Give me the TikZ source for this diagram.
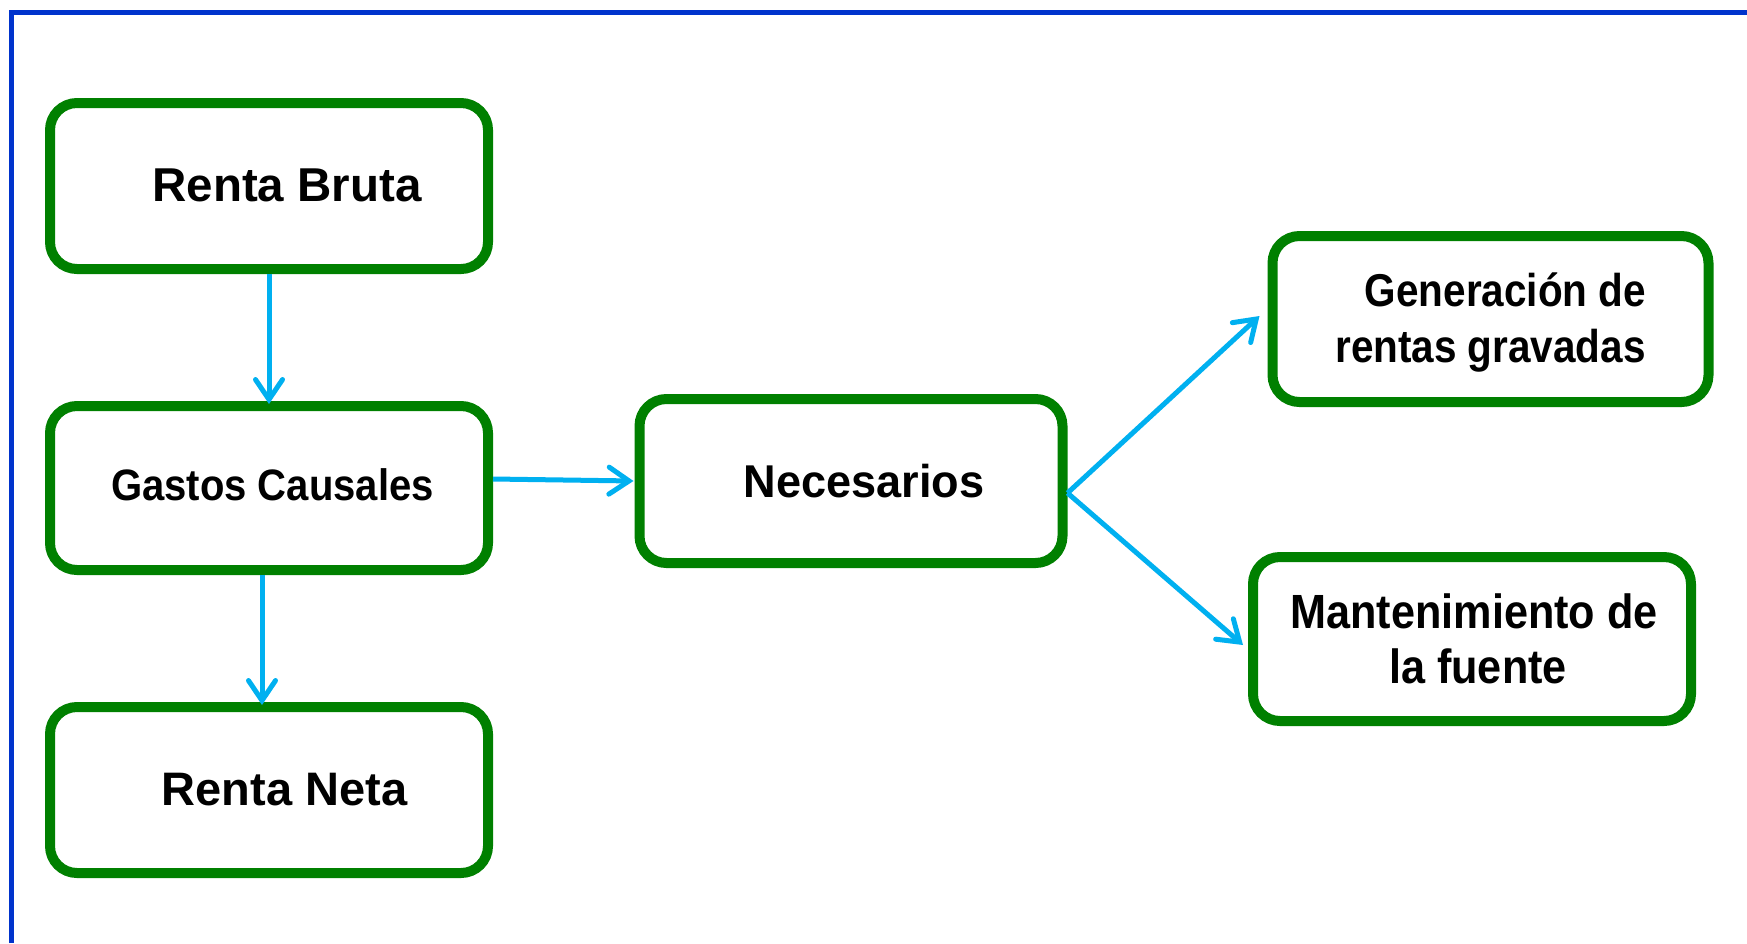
\documentclass[tikz,border=0pt]{standalone}
\usepackage{fontspec}
\setmainfont{Liberation Sans}
\usetikzlibrary{arrows.meta,calc}
\definecolor{boxgreen}{RGB}{0,128,0}
\definecolor{framblue}{RGB}{0,51,204}
\definecolor{arrowcyan}{RGB}{0,176,240}
\tikzset{
  box/.style={draw=boxgreen, line width=10pt, rounded corners=27pt, fill=white, inner sep=0pt},
  txt/.style={inner sep=0pt, anchor=base, font=\bfseries},
  conn/.style={draw=arrowcyan, line width=5pt, -{Straight Barb[length=20pt,width=27pt,line width=5pt,line cap=round]}},
}
\newcommand{\fs}[1]{\fontsize{#1}{#1}\selectfont}
\begin{document}
\begin{tikzpicture}[x=1pt,y=-1pt]
\useasboundingbox (0,0) rectangle (1747,943);
\fill[white] (0,0) rectangle (1747,943);
% frame
\draw[framblue, line width=5pt] (11.5,943) -- (11.5,12.5) -- (1747,12.5);
% boxes
\node[box, minimum width=438pt, minimum height=166pt] (rb) at (269,186) {};
\node[box, minimum width=438pt, minimum height=164pt] (gc) at (269,488) {};
\node[box, minimum width=438pt, minimum height=166pt] (rn) at (269,790) {};
\node[box, minimum width=423pt, minimum height=164pt] (nec) at (851,481) {};
\node[box, minimum width=436pt, minimum height=166pt] (gen) at (1490.5,319) {};
\node[box, minimum width=438pt, minimum height=164pt] (man) at (1472,639) {};
% texts
\node[txt] (rbt) at (287,201) {\fs{47.5}Renta Bruta};
\node[txt] (gct) at (272.5,500) {\fs{44}\scalebox{0.91}[1]{Gastos Causales}};
\node[txt] (rnt) at (284.5,805) {\fs{47}Renta Neta};
\node[txt] (nect) at (864,497) {\fs{46}\scalebox{0.98}[1]{Necesarios}};
\node[txt] (gent1) at (1505.5,306) {\fs{46}\scalebox{0.88}[1]{Generación de}};
\node[txt] (gent2) at (1490.5,362) {\fs{46}\scalebox{0.88}[1]{rentas gravadas}};
\node[txt] (mant1) at (1474,628) {\fs{48}\scalebox{0.9}[1]{Mantenimiento de}};
\node[txt] (mant2) at (1478,683) {\fs{48}\scalebox{0.9}[1]{la fuente}};
% connectors
\draw[conn, shorten >=-3pt] (rb.south) -- (gc.north);
\draw[conn, shorten >=-3pt] ($(gc.south)+(-7,0)$) -- ($(rn.north)+(-7,0)$);
\draw[conn, shorten >=1pt] ($(gc.east)+(0,-9)$) -- ($(nec.west)+(0,0)$);
\coordinate (necr) at ($(nec.east)+(0,12)$);
\coordinate (genin) at ($(gen.west)+(-8,-3)$);
\coordinate (manin) at ($(man.west)+(-5,6)$);
\draw[conn] (necr) -- (genin);
\draw[conn] (necr) -- (manin);
\end{tikzpicture}
\end{document}
